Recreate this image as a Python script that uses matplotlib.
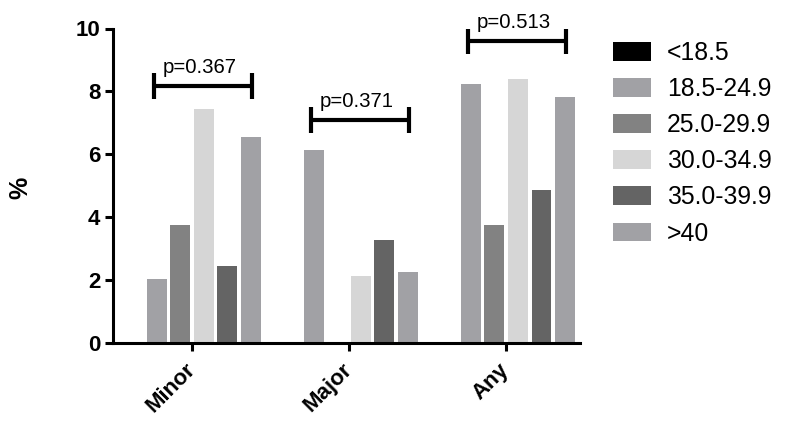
import matplotlib
matplotlib.use("Agg")
import matplotlib.pyplot as plt
import numpy as np
from matplotlib.patches import Patch

plt.rcParams['font.family'] = ['Liberation Sans', 'DejaVu Sans']

groups = ["Minor", "Major", "Any"]
bmi_classes = ["<18.5", "18.5-24.9", "25.0-29.9", "30.0-34.9", "35.0-39.9", ">40"]
values = {
    "<18.5":     [0.0, 0.0, 0.0],
    "18.5-24.9": [2.05, 6.13, 8.22],
    "25.0-29.9": [3.75, 0.0, 3.75],
    "30.0-34.9": [7.44, 2.14, 8.41],
    "35.0-39.9": [2.45, 3.26, 4.85],
    ">40":       [6.55, 2.25, 7.83],
}
colors = ["#000000", "#a1a1a5", "#828282", "#d6d6d6", "#646464", "#a1a1a5"]
p_labels = ["p=0.367", "p=0.371", "p=0.513"]
bracket_y = [8.17, 7.09, 9.61]

fig = plt.figure(figsize=(7.86, 4.24), dpi=100)
ax = fig.add_axes([113/786, (424-343)/424, (580-113)/786, (343-28.5)/424])

x = np.arange(len(groups))
step = 0.15
width = 0.127
for i, cls in enumerate(bmi_classes):
    ax.bar(x + (i - 2.5) * step, values[cls], width=width, color=colors[i])

# brackets
for gx, by, lab in zip(x, bracket_y, p_labels):
    x0, x1 = gx - 0.245, gx + 0.38
    ax.plot([x0, x1], [by, by], color="black", lw=3, solid_capstyle="butt")
    ax.plot([x0, x0], [by - 0.42, by + 0.42], color="black", lw=3, solid_capstyle="butt")
    ax.plot([x1, x1], [by - 0.42, by + 0.42], color="black", lw=3, solid_capstyle="butt")
    ax.text((x0 + x1) / 2 - 0.02, by + 0.42, lab, ha="center", va="baseline", fontsize=14.7)

ax.set_xlim(-0.503, 2.47)
ax.set_ylim(0, 10)
ax.set_yticks([0, 2, 4, 6, 8, 10])
ax.set_xticks(x)
ax.set_xticklabels(groups, rotation=45, ha="right", va="center", rotation_mode="anchor",
                   fontsize=16, fontweight="bold")
for t in ax.get_yticklabels():
    t.set_fontsize(16)
    t.set_fontweight("bold")

for s in ["top", "right"]:
    ax.spines[s].set_visible(False)
for s in ["left", "bottom"]:
    ax.spines[s].set_linewidth(2.2)
ax.tick_params(axis="both", width=2.2, length=6, direction="out", pad=3)
ax.tick_params(axis="x", pad=11)

fig.text(20/786, 1 - 188/424, "%", rotation=90, ha="center", va="center",
         fontsize=18, fontweight="bold")

handles = [Patch(facecolor=c, edgecolor="none") for c in colors]
fig.legend(handles, bmi_classes, loc="upper left",
           bbox_to_anchor=(613/786, 1 - 41/424), frameon=False,
           fontsize=17.8, handlelength=1.55, handleheight=0.8,
           handletextpad=0.62, labelspacing=0.49, borderpad=0, borderaxespad=0)

fig.savefig("out.png", dpi=100)
